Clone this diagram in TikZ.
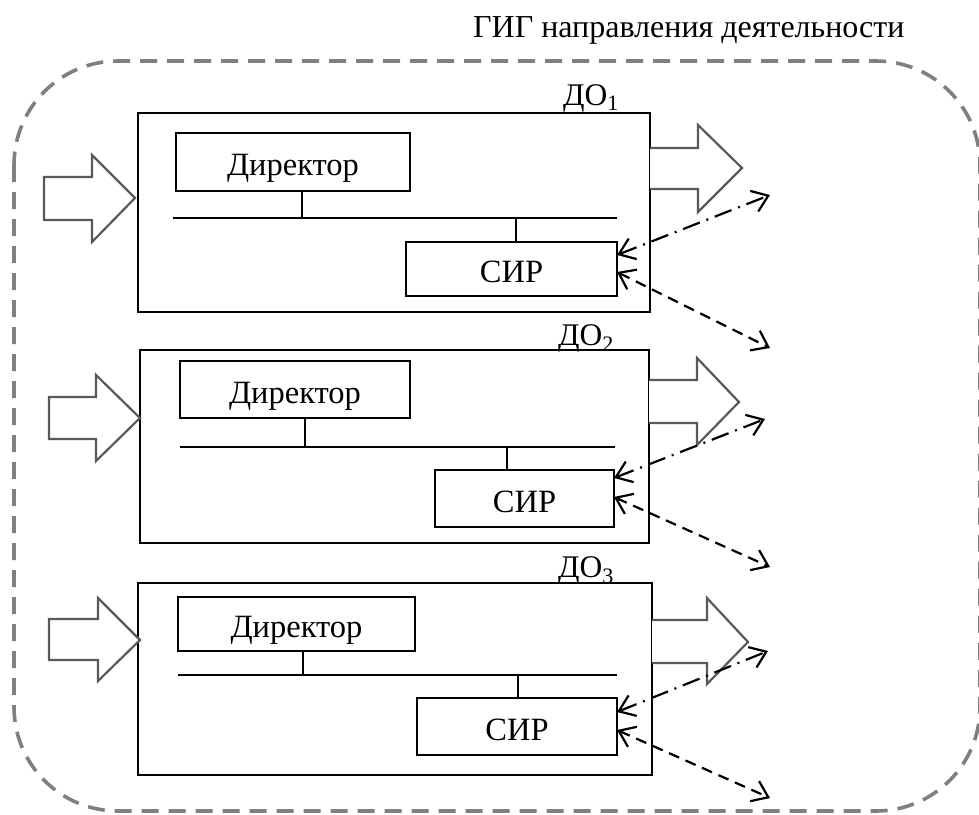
\documentclass[tikz,border=0pt]{standalone}
\usepackage{fontspec}
\setmainfont{Liberation Serif}
\usetikzlibrary{arrows.meta}
\tikzset{sbarb/.tip={Straight Barb[length=15pt, width=22pt, line width=2.2pt]}}
\begin{document}
\begin{tikzpicture}[x=1pt,y=-1pt,
  every node/.style={font=\fontsize{32.5}{38}\selectfont},
  caption/.style={anchor=base west, inner sep=0pt, font=\fontsize{32}{38}\selectfont},
  unitlabel/.style={anchor=base west, inner sep=0pt, font=\fontsize{31.5}{38}\selectfont},
  outerbox/.style={draw, line width=2.6pt, anchor=north west, inner sep=0pt, outer sep=0pt},
  unitbox/.style={draw, line width=2.6pt, inner sep=0pt, outer sep=0pt, text height=27pt, text depth=0pt},
  bus/.style={line width=2.4pt},
  blockarrow/.style={draw=black!65, line width=2.2pt, fill=white, line join=miter},
  infoline/.style={line width=2.2pt, sbarb-sbarb, dash pattern=on 18pt off 7pt on 2pt off 7pt},
  dataline/.style={line width=2.2pt, sbarb-sbarb, dash pattern=on 11pt off 7pt},
  border/.style={draw=black!50, line width=3.6pt, dash pattern=on 17pt off 10pt, rounded corners=104pt}
]
\useasboundingbox (0,0) rectangle (979,814);

% outer dashed frame and its caption
\draw[border] (14,61) rectangle (980,811);
\node[caption] (title) at (473,37) {ГИГ направления деятельности};

% ---------- unit 1 ----------
\node[outerbox, minimum width=512pt, minimum height=199pt] (do1) at (138,113) {};
\node[unitlabel] (lab1) at (563,105) {ДО\textsubscript{1}};
\node[unitbox, minimum width=234pt, minimum height=58pt] (dir1) at (293,162) {Директор};
\node[unitbox, minimum width=211pt, minimum height=54pt] (sir1) at (511.5,269) {СИР};
\coordinate (b1l) at (173,218);
\coordinate (b1r) at (617,218);
\draw[bus] (b1l) -- (b1r);
\draw[bus] (dir1.south -| 302,0) -- (b1l -| 302,0);
\draw[bus] (b1l -| 516,0) -- (sir1.north -| 516,0);
\draw[blockarrow] (44,177) -- (92,177) -- (92,155) -- (135,198) -- (92,242) -- (92,220) -- (44,220) -- cycle;
\draw[blockarrow] (650,148) -- (698,148) -- (698,125) -- (742,168) -- (698,212) -- (698,189) -- (650,189);
\coordinate (i1) at (770,195);
\coordinate (o1) at (770,348);
\draw[infoline] ([yshift=14pt]sir1.east) -- (i1);
\draw[dataline] ([yshift=-3pt]sir1.east) -- (o1);

% ---------- unit 2 ----------
\node[outerbox, minimum width=509pt, minimum height=193pt] (do2) at (140,350) {};
\node[unitlabel] (lab2) at (558,345) {ДО\textsubscript{2}};
\node[unitbox, minimum width=230pt, minimum height=57pt] (dir2) at (295,389.5) {Директор};
\node[unitbox, minimum width=179pt, minimum height=57pt] (sir2) at (524.5,498.5) {СИР};
\coordinate (b2l) at (180,447);
\coordinate (b2r) at (615,447);
\draw[bus] (b2l) -- (b2r);
\draw[bus] (dir2.south -| 305,0) -- (b2l -| 305,0);
\draw[bus] (b2l -| 507,0) -- (sir2.north -| 507,0);
\draw[blockarrow] (49,397) -- (96,397) -- (96,375) -- (140,418) -- (96,461) -- (96,439) -- (49,439) -- cycle;
\draw[blockarrow] (649,380) -- (697,380) -- (697,358) -- (739,402) -- (697,445) -- (697,423) -- (649,423);
\coordinate (i2) at (765,419);
\coordinate (o2) at (770,567);
\draw[infoline] ([yshift=20.5pt]sir2.east) -- (i2);
\draw[dataline] ([yshift=1.5pt]sir2.east) -- (o2);

% ---------- unit 3 ----------
\node[outerbox, minimum width=514pt, minimum height=192pt] (do3) at (138,583) {};
\node[unitlabel] (lab3) at (558,577) {ДО\textsubscript{3}};
\node[unitbox, minimum width=237pt, minimum height=54pt] (dir3) at (296.5,624) {Директор};
\node[unitbox, minimum width=200pt, minimum height=57pt] (sir3) at (517,726.5) {СИР};
\coordinate (b3l) at (178,675);
\coordinate (b3r) at (617,675);
\draw[bus] (b3l) -- (b3r);
\draw[bus] (dir3.south -| 303,0) -- (b3l -| 303,0);
\draw[bus] (b3l -| 518,0) -- (sir3.north -| 518,0);
\draw[blockarrow] (49,619) -- (98,619) -- (98,598) -- (140,640) -- (98,681) -- (98,660) -- (49,660) -- cycle;
\draw[blockarrow] (652,620) -- (707,620) -- (707,598) -- (748,642) -- (707,684) -- (707,663) -- (652,663);
\coordinate (i3) at (768,651);
\coordinate (o3) at (770,798);
\draw[infoline] ([yshift=14.5pt]sir3.east) -- (i3);
\draw[dataline] ([yshift=-3.5pt]sir3.east) -- (o3);
\end{tikzpicture}
\end{document}
